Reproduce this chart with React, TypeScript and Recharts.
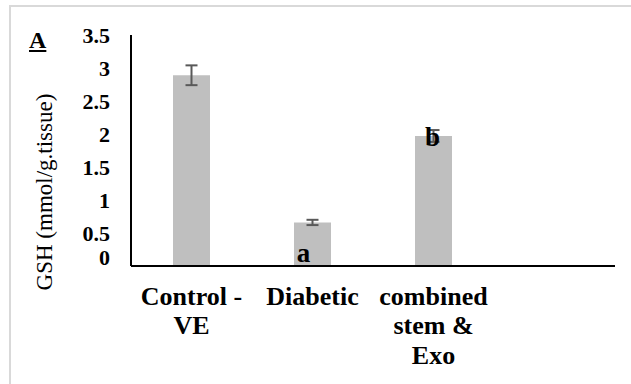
import React from "react";
import { BarChart, Bar, XAxis, YAxis, ErrorBar, LabelList } from "recharts";

const categories = ["Control -\nVE", "Diabetic", "combined\nstem &\nExo", ""];
const gshValues = [2.89, 0.66, 1.97, null];
const gshErrors = [0.15, 0.04, 0.09, null];
const letters = ["", "a", "b", ""];
const yTicks = [0, 0.5, 1, 1.5, 2, 2.5, 3, 3.5];

const data = categories.map((c, i) => ({
  cat: c,
  value: gshValues[i],
  err: gshErrors[i],
  letter: letters[i],
}));

const W = 631;
const H = 384;
const TOP = 35;
const YAXIS_W = 131;
const XAXIS_H = 118;
const AXIS_Y = H - XAXIS_H;
const FONT = "'Liberation Serif', 'Times New Roman', 'DejaVu Serif', serif";

const bold = (size: number) => ({ fontFamily: FONT, fontWeight: 700, fontSize: size });

const YTick = (props: any) => {
  const { y, payload } = props;
  const dy = payload.value === 0 ? -9 : 0;
  return (
    <text
      x={YAXIS_W - 21}
      y={y + dy}
      textAnchor="end"
      dominantBaseline="central"
      style={bold(22)}
      fill="#000"
    >
      {payload.value}
    </text>
  );
};

const XTick = (props: any) => {
  const { x, payload } = props;
  const lines = String(payload.value).split("\n");
  const offsets = [39, 68, 98];
  return (
    <g>
      {lines.map((l, i) => (
        <text
          key={i}
          x={x}
          y={AXIS_Y + offsets[i]}
          textAnchor="middle"
          style={bold(26)}
          fill="#000"
        >
          {l}
        </text>
      ))}
    </g>
  );
};

const YLabel = () => (
  <text
    x={44}
    y={192}
    transform="rotate(-90, 44, 192)"
    textAnchor="middle"
    dominantBaseline="central"
    style={{ fontFamily: FONT, fontSize: 23, fontWeight: 400 }}
    fill="#000"
  >
    GSH (mmol/g.tissue)
  </text>
);

const LetterLabel = (props: any) => {
  const { x, y, width, height, value } = props;
  if (!value) return null;
  const cx = x + width / 2;
  if (value === "a") {
    return (
      <text x={cx - 9} y={y + height - 4} textAnchor="middle" style={bold(27)} fill="#000">
        {value}
      </text>
    );
  }
  return (
    <text x={cx - 1} y={y + 10} textAnchor="middle" style={bold(27)} fill="#000">
      {value}
    </text>
  );
};

export default function App() {
  return (
    <div
      style={{
        position: "absolute",
        left: 0,
        top: 0,
        width: W,
        height: H,
        overflow: "hidden",
        background: "#fff",
      }}
    >
      <div
        style={{
          position: "absolute",
          left: 9,
          top: 5,
          width: 700,
          height: 500,
          border: "2px solid #d9d9d9",
        }}
      />
      <div
        style={{
          position: "absolute",
          left: 29,
          top: 26,
          fontFamily: FONT,
          fontWeight: 700,
          fontSize: 24,
          textDecoration: "underline",
          lineHeight: "28px",
          color: "#000",
        }}
      >
        A
      </div>
      <div style={{ position: "absolute", left: 0, top: 0 }}>
        <BarChart
          width={W}
          height={H}
          data={data}
          margin={{ top: TOP, right: 16, left: 0, bottom: 0 }}
        >
          <XAxis
            dataKey="cat"
            height={XAXIS_H}
            interval={0}
            tickLine={false}
            axisLine={{ stroke: "#000", strokeWidth: 2 }}
            tick={<XTick />}
          />
          <YAxis
            width={YAXIS_W}
            domain={[0, 3.5]}
            ticks={yTicks}
            tickLine={false}
            axisLine={{ stroke: "#000", strokeWidth: 2 }}
            tick={<YTick />}
            label={<YLabel />}
          />
          <Bar dataKey="value" fill="#bfbfbf" barSize={37} isAnimationActive={false}>
            <LabelList dataKey="letter" content={<LetterLabel />} />
            <ErrorBar dataKey="err" width={6} stroke="#595959" strokeWidth={2} />
          </Bar>
        </BarChart>
      </div>
    </div>
  );
}
